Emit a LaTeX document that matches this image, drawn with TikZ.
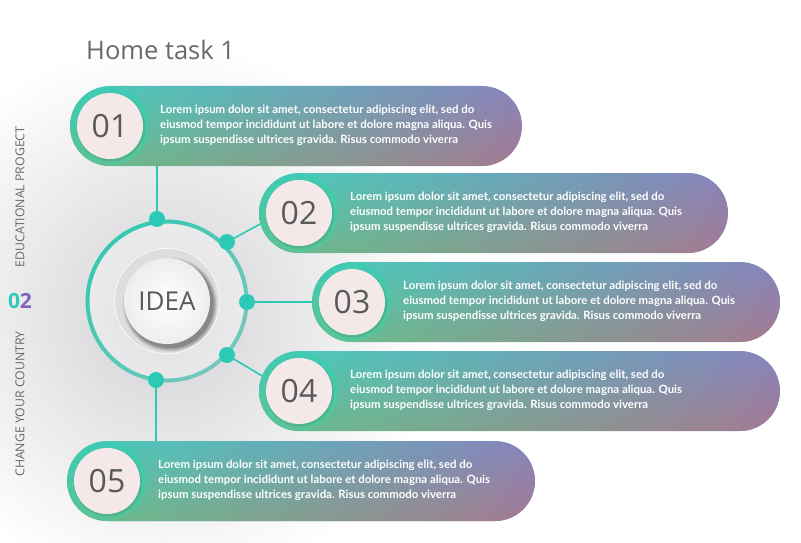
\documentclass[tikz,border=0pt]{standalone}
\usepackage{fontspec}
\setmainfont{Open Sans}
\newfontfamily\txtfont{Lato}
\usetikzlibrary{fadings}
\definecolor{barTL}{RGB}{72,207,185}
\definecolor{barTR}{RGB}{136,132,188}
\definecolor{barBL}{RGB}{103,192,140}
\definecolor{barBR}{RGB}{165,122,146}
\definecolor{ringT}{RGB}{62,203,180}
\definecolor{ringB}{RGB}{90,195,150}
\definecolor{pinkc}{RGB}{244,232,233}
\definecolor{numgray}{RGB}{88,90,90}
\definecolor{titlegray}{RGB}{102,106,106}
\definecolor{sidegray}{RGB}{105,105,105}
\definecolor{tealc}{RGB}{44,201,181}
\definecolor{ringA}{RGB}{52,200,178}
\definecolor{ringC}{RGB}{118,200,188}
\definecolor{innergray}{RGB}{220,221,221}
\definecolor{glowc}{RGB}{210,210,213}
\definecolor{zeroc}{RGB}{48,200,185}
\definecolor{twoc}{RGB}{128,100,186}
\tikzfading[name=fadeup, top color=transparent!100, bottom color=transparent!0]
\tikzset{
  conn/.style={draw=tealc, line width=1.6pt},
  dotnode/.style={circle, fill=tealc, minimum size=16pt, inner sep=0pt},
  numtext/.style={text=numgray, font=\fontsize{32}{32}\selectfont, inner sep=0pt},
  bartext/.style={anchor=west, text=white, align=left, inner sep=0pt,
    font=\txtfont\bfseries\fontsize{11.4}{15}\selectfont},
  sidetext/.style={rotate=90, text=sidegray, inner sep=0pt, font=\fontsize{12.3}{12}\selectfont}
}
\begin{document}
\begin{tikzpicture}[x=1pt,y=-1pt]
\useasboundingbox (0,0) rectangle (801,543);
\fill[white] (0,0) rectangle (801,543);
% glow
\begin{scope}
\clip (0,0) rectangle (801,543);
\shade[inner color=glowc, outer color=white] (165-275,315-275) rectangle (165+275,315+275);
\end{scope}
% coordinates
\coordinate (p1) at (157,219);
\coordinate (p2) at (227,242);
\coordinate (p3) at (247,302);
\coordinate (p4) at (227,355);
\coordinate (p5) at (156,380);
\coordinate (c1) at (157,166);
\coordinate (c2) at (264,222);
\coordinate (c3) at (316,302);
\coordinate (c4) at (264,377);
\coordinate (c5) at (156,442);
% connectors
\draw[conn] (p1) -- (c1);
\draw[conn] (p2) -- (c2);
\draw[conn] (p3) -- (c3);
\draw[conn] (p4) -- (c4);
\draw[conn] (p5) -- (c5);
% main ring
\fill[white, opacity=0.35] (167,301) circle (78);
\shade[left color=ringA, right color=ringC, shading angle=45, even odd rule]
  (167,301) circle (81.5) (167,301) circle (77.5);
\node[dotnode] (d1) at (p1) {};
\node[dotnode] (d2) at (p2) {};
\node[dotnode] (d3) at (p3) {};
\node[dotnode] (d4) at (p4) {};
\node[dotnode] (d5) at (p5) {};
% inner discs
\node[circle, fill=innergray, draw=white, line width=0.6pt, minimum size=105pt, inner sep=0pt] (g) at (167,301) {};
\foreach \rr in {47,46,45,44,43.5}
  \fill[black, opacity=0.09] (170,304.5) circle (\rr);
\node[circle, inner color=white, outer color=white!93!black, minimum size=86pt, inner sep=0pt,
  text=numgray, font=\fontsize{26}{26}\selectfont] (idea) at (167,301) {IDEA};
% bars
\foreach \l/\r/\cy/\num/\tx in {70/522/126/01/160, 259/728/213/02/350, 312/780/302/03/403, 259/780/391/04/350, 67/535/481/05/158}{
  \path[left color=barTL, right color=barTR, rounded corners=40pt] (\l,\cy-40) rectangle (\r,\cy+40);
  \path[left color=barBL, right color=barBR, path fading=fadeup, rounded corners=40pt] (\l,\cy-40) rectangle (\r,\cy+40);
  \node[circle, top color=ringT, bottom color=ringB, minimum size=79pt, inner sep=0pt] (r\num) at (\l+40,\cy) {};
  \fill[black, opacity=0.08] (\l+41,\cy+1.5) circle (34);
  \node[circle, fill=pinkc, minimum size=66pt, inner sep=0pt] (n\num) at (\l+40,\cy) {};
  \node[numtext] at (n\num) {\num};
  \node[bartext] (t\num) at (\tx,\cy-0.5) {Lorem ipsum dolor sit amet, consectetur adipiscing elit, sed do\\
    eiusmod tempor incididunt ut labore et dolore magna aliqua. Quis\\
    ipsum suspendisse ultrices gravida. Risus commodo viverra};
}
% title
\node[anchor=base west, text=titlegray, inner sep=0pt, font=\fontsize{25.5}{30}\selectfont] (title) at (86,60) {Home task 1};
% side texts
\node[sidetext] (edu) at (20,197) {EDUCATIONAL PROGECT};
\node[sidetext] (chg) at (20,404) {CHANGE YOUR COUNTRY};
\node[inner sep=0pt, font=\bfseries\fontsize{21}{21}\selectfont] (z) at (20,301) {\textcolor{zeroc}{0}\textcolor{twoc}{2}};
\end{tikzpicture}
\end{document}
